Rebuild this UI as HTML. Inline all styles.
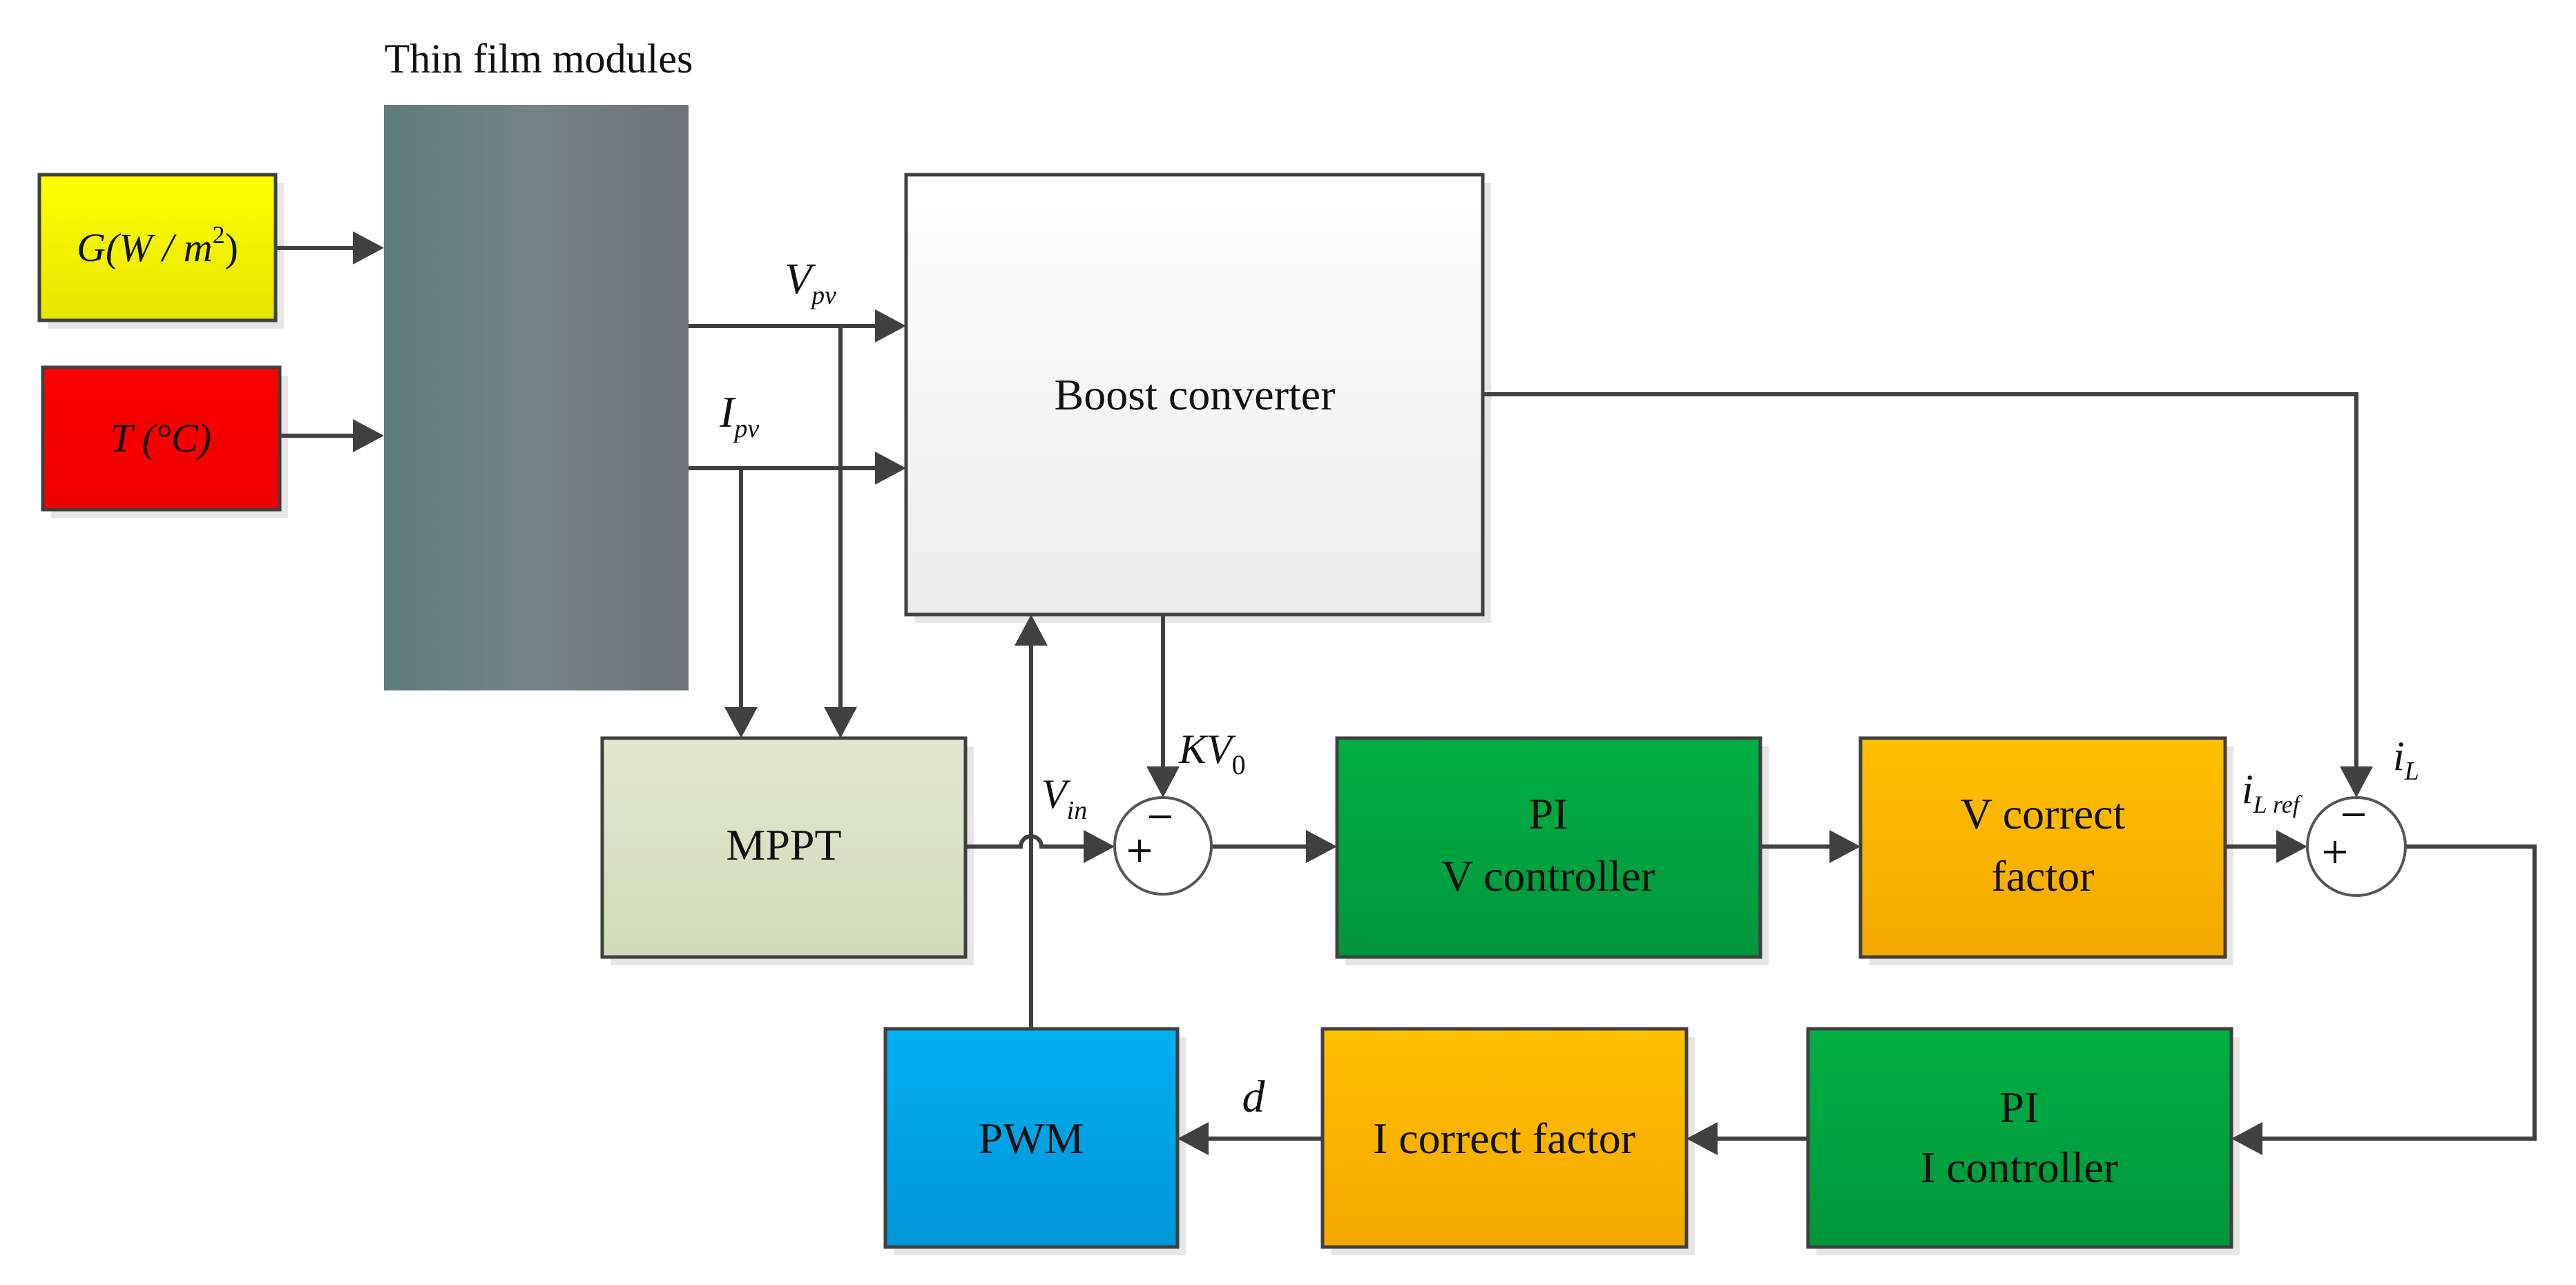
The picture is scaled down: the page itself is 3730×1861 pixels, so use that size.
<!DOCTYPE html>
<html><head><meta charset="utf-8"><style>
html,body{margin:0;padding:0;background:#fff}
svg{display:block}
text{font-family:"Liberation Serif",serif;fill:#111}
.it{font-style:italic}
</style></head><body>
<svg width="3730" height="1861" viewBox="0 0 3730 1861" xmlns="http://www.w3.org/2000/svg">
<defs>
<linearGradient id="yel" x1="0" y1="0" x2="0" y2="1"><stop offset="0" stop-color="#ffff00"/><stop offset="1" stop-color="#e6e600"/></linearGradient>
<linearGradient id="red" x1="0" y1="0" x2="0" y2="1"><stop offset="0" stop-color="#ff0000"/><stop offset="1" stop-color="#f00000"/></linearGradient>
<linearGradient id="pan" x1="0" y1="0" x2="1" y2="0"><stop offset="0" stop-color="#5e7c7c"/><stop offset="0.5" stop-color="#758388"/><stop offset="1" stop-color="#6c7278"/></linearGradient>
<linearGradient id="wht" x1="0" y1="0" x2="0" y2="1"><stop offset="0" stop-color="#ffffff"/><stop offset="1" stop-color="#ececec"/></linearGradient>
<linearGradient id="mp" x1="0" y1="0" x2="0" y2="1"><stop offset="0" stop-color="#e0e8cf"/><stop offset="1" stop-color="#d0dcb8"/></linearGradient>
<linearGradient id="grn" x1="0" y1="0" x2="0" y2="1"><stop offset="0" stop-color="#00b044"/><stop offset="1" stop-color="#00963c"/></linearGradient>
<linearGradient id="org" x1="0" y1="0" x2="0" y2="1"><stop offset="0" stop-color="#ffc000"/><stop offset="1" stop-color="#f5a800"/></linearGradient>
<linearGradient id="blu" x1="0" y1="0" x2="0" y2="1"><stop offset="0" stop-color="#00b0f0"/><stop offset="1" stop-color="#0096d6"/></linearGradient>
</defs>
<g fill="#e6e6e6">
<rect x="69" y="265" width="342" height="211"/><rect x="74" y="544" width="343" height="206"/>
<rect x="1324" y="265" width="835" height="637"/><rect x="884" y="1081" width="526" height="317"/>
<rect x="1948" y="1081" width="613" height="317"/><rect x="2706" y="1081" width="528" height="317"/>
<rect x="1294" y="1502" width="423" height="316"/><rect x="1927" y="1502" width="527" height="316"/>
<rect x="2630" y="1502" width="613" height="316"/>
</g>
<g stroke="#404040" stroke-width="5">
<rect x="57" y="253" width="342" height="211" fill="url(#yel)"/>
<rect x="62" y="532" width="343" height="206" fill="url(#red)"/>
<rect x="1312" y="253" width="835" height="637" fill="url(#wht)"/>
<rect x="872" y="1069" width="526" height="317" fill="url(#mp)"/>
<rect x="1936" y="1069" width="613" height="317" fill="url(#grn)"/>
<rect x="2694" y="1069" width="528" height="317" fill="url(#org)"/>
<rect x="1282" y="1490" width="423" height="316" fill="url(#blu)"/>
<rect x="1915" y="1490" width="527" height="316" fill="url(#org)"/>
<rect x="2618" y="1490" width="613" height="316" fill="url(#grn)"/>
</g>
<rect x="556" y="152" width="441" height="848" fill="url(#pan)"/>
<g stroke="#404040" stroke-width="6" fill="none">
<path d="M399 359H515"/><path d="M405 631H515"/>
<path d="M997 472H1270"/><path d="M997 678H1270"/>
<path d="M1073 678V1026"/><path d="M1217 472V1026"/>
<path d="M1493 1490V932"/>
<path d="M1684 890V1112"/>
<path d="M1398 1226H1478a15 15 0 0 1 30 0H1572"/>
<path d="M1753 1226H1895"/><path d="M2549 1226H2652"/>
<path d="M3222 1226H3300"/>
<path d="M2147 571H3412V1110"/>
<path d="M3483 1226H3670V1649H3275"/>
<path d="M2618 1649H2486"/><path d="M1915 1649H1749"/>
</g>
<g fill="#404040">
<path d="M556 359l-45-24v48z"/><path d="M556 631l-45-24v48z"/>
<path d="M1312 472l-45-24v48z"/><path d="M1312 678l-45-24v48z"/>
<path d="M1073 1069l-24-45h48z"/><path d="M1217 1069l-24-45h48z"/>
<path d="M1493 890l-24 45h48z"/>
<path d="M1684 1155l-24-45h48z"/>
<path d="M1614 1226l-45-24v48z"/>
<path d="M1936 1226l-45-24v48z"/><path d="M2694 1226l-45-24v48z"/>
<path d="M3341 1226l-45-24v48z"/>
<path d="M3412 1155l-24-45h48z"/>
<path d="M3231 1649l45-24v48z"/><path d="M2442 1649l45-24v48z"/><path d="M1705 1649l45-24v48z"/>
</g>
<g stroke="#555" stroke-width="4" fill="#fff">
<circle cx="1684" cy="1225" r="70"/><circle cx="3412" cy="1226" r="71"/>
</g>
<g stroke="#111" stroke-width="4">
<path d="M1664 1183h32"/><path d="M1634 1232h32M1650 1216v32"/>
<path d="M3392 1180h32"/><path d="M3365 1234h32M3381 1218v32"/>
</g>
<text x="780" y="105" font-size="60" text-anchor="middle">Thin film modules</text>
<text x="228" y="378" font-size="58" text-anchor="middle" class="it">G(W / m<tspan font-size="36" dy="-26" font-style="normal">2</tspan><tspan dy="26" font-style="normal">)</tspan></text>
<text x="233" y="654" font-size="58" text-anchor="middle" class="it">T (°C)</text>
<text x="1136" y="425" font-size="64" class="it">V<tspan font-size="38" dy="15">pv</tspan></text>
<text x="1042" y="618" font-size="64" class="it">I<tspan font-size="38" dy="15">pv</tspan></text>
<text x="1730" y="593" font-size="64" text-anchor="middle">Boost converter</text>
<text x="1135" y="1245" font-size="64" text-anchor="middle">MPPT</text>
<text x="1508" y="1170" font-size="60" class="it">V<tspan font-size="38" dy="16">in</tspan></text>
<text x="1707" y="1105" font-size="60" class="it">KV<tspan font-size="40" dy="16" font-style="normal">0</tspan></text>
<text x="2242" y="1200" font-size="64" text-anchor="middle">PI</text>
<text x="2242" y="1290" font-size="64" text-anchor="middle">V controller</text>
<text x="2958" y="1200" font-size="64" text-anchor="middle">V correct</text>
<text x="2958" y="1290" font-size="64" text-anchor="middle">factor</text>
<text x="3246" y="1163" font-size="60" class="it">i<tspan font-size="36" dy="14">L ref</tspan></text>
<text x="3465" y="1115" font-size="60" class="it">i<tspan font-size="38" dy="14">L</tspan></text>
<text x="1493" y="1670" font-size="64" text-anchor="middle">PWM</text>
<text x="1815" y="1610" font-size="66" text-anchor="middle" class="it">d</text>
<text x="2178" y="1670" font-size="64" text-anchor="middle">I correct factor</text>
<text x="2924" y="1625" font-size="64" text-anchor="middle">PI</text>
<text x="2924" y="1712" font-size="64" text-anchor="middle">I controller</text>
</svg>
</body></html>
